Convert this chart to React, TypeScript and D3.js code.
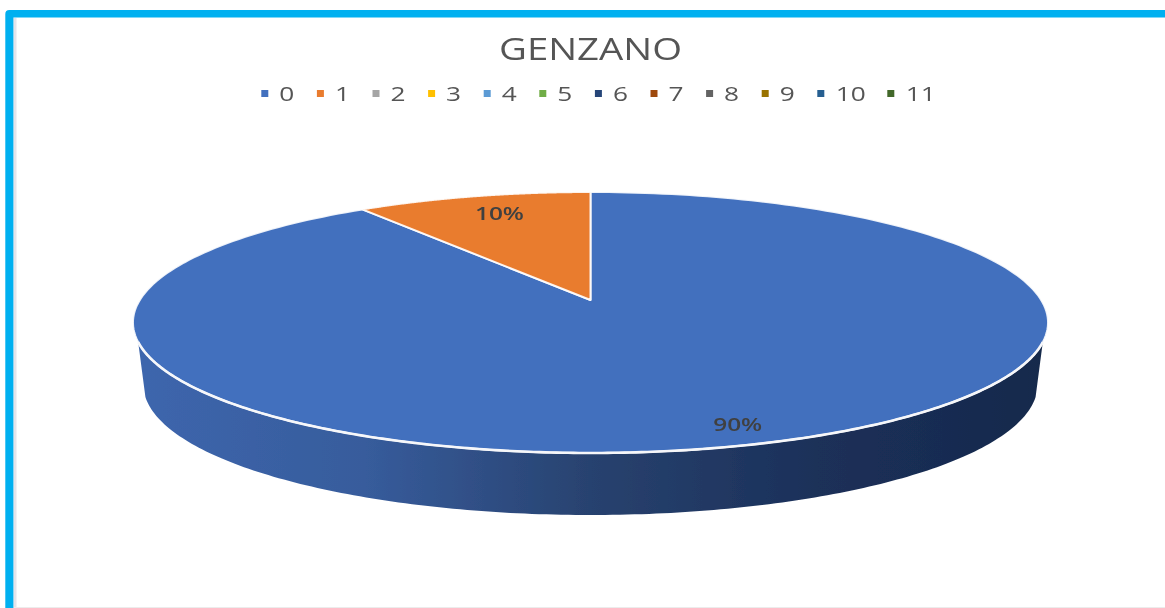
import React from "react";
import * as d3 from "d3";

const title = "GENZANO";
const categories = ["0", "1", "2", "3", "4", "5", "6", "7", "8", "9", "10", "11"];
const values = [90.2, 9.8, 0, 0, 0, 0, 0, 0, 0, 0, 0, 0];
const colors = ["#4270be", "#e97b2e", "#a5a5a5", "#ffc000", "#5b9bd5", "#70ad47", "#264478", "#9e480e", "#636363", "#997300", "#255e91", "#43682b"];
const wallStops = [
  { at: 0, color: "#3d66ad" },
  { at: 0.25, color: "#375c9c" },
  { at: 0.5, color: "#28426f" },
  { at: 0.75, color: "#1b3059" },
  { at: 1, color: "#17294c" },
];

const W = 1165, H = 608;
// perspective disc: apex of the slices, radii and tilt
const CX = 590.5, CY = 300, R = 450.7, RY = 126.6, TILT = -0.1724;
const project = (a: number, f = 1): [number, number] => {
  const u = Math.sin(a) * f, v = -Math.cos(a) * f;
  const d = 1 + TILT * v;
  return [CX + (R * u) / d, CY + (RY * v) / d];
};
const line = d3.line();
const TAU = Math.PI * 2;
const pie = d3.pie<number>().sort(null).startAngle(0).endAngle(TAU);
const arcs = pie(values);
const sweep = (a0: number, a1: number) => d3.range(0, 241).map((i) => a0 + ((a1 - a0) * i) / 240);

const slicePath = (a0: number, a1: number) =>
  line([[CX, CY], ...sweep(a0, a1).map((a) => project(a))]) + "Z";

// side wall: visible part of the rim plus the lower rim
const WALL_TOP = 342, WALL_KNEE = 397, LOW_CY = 385, LOW_RX = 447, LOW_RY = 130;
const lowerX = d3.scaleLinear().domain([-1, 1]).range([CX - LOW_RX, CX + LOW_RX]);
const lowerY = d3.scaleLinear().domain([-1, 1]).range([LOW_CY - LOW_RY, LOW_CY + LOW_RY]);
const findRim = (yT: number, side: number) => {
  const as = sweep(Math.PI / 2, Math.PI).map((a) => (side > 0 ? a : TAU - a));
  return as.reduce((b, a) => (Math.abs(project(a)[1] - yT) < Math.abs(project(b)[1] - yT) ? a : b), as[0]);
};
const aRight = findRim(WALL_TOP, 1), aLeft = findRim(WALL_TOP, -1);
const knee = Math.asin((WALL_KNEE - LOW_CY) / LOW_RY);
const lowerPts = d3.range(0, 181).map((i) => {
  const th = knee + ((Math.PI - 2 * knee) * i) / 180;
  return [lowerX(Math.cos(th)), lowerY(Math.sin(th))] as [number, number];
});
const wallPath = line([...sweep(aLeft, aRight).map((a) => project(a)), ...lowerPts]) + "Z";
const rimPath = line(sweep(aRight, aLeft).map((a) => project(a))) as string;

const legendStart = 264.8, legendStep = 55.6, legendExtra = 14.4;
const legendX = categories.map((_, i) =>
  legendStart + d3.sum(categories.slice(0, i), (c) => legendStep + (c.length - 1) * legendExtra)
);

const FONT = "'Open Sans', 'Liberation Sans', sans-serif";

export default function App() {
  return (
    <svg width={W} height={H} style={{ position: "fixed", left: 0, top: 0, background: "#fff" }}>
      <defs>
        <linearGradient id="wall" x1="0" x2="1" y1="0" y2="0">
          {wallStops.map((s) => <stop key={s.at} offset={s.at} stopColor={s.color} />)}
        </linearGradient>
        <filter id="soft" x="-5%" y="-5%" width="110%" height="110%">
          <feGaussianBlur stdDeviation="0.75" />
        </filter>
        <filter id="softText" x="-20%" y="-20%" width="140%" height="140%">
          <feGaussianBlur stdDeviation="0.7" />
        </filter>
      </defs>

      <rect x={13.5} y={18} width={3} height={H - 18} fill="#e4e4ea" />
      <path d={`M5.3 ${H} V14 Q5.3 10 9.3 10 H${W} V17.6 H13.4 V${H} Z`} fill="#00b0f0" />
      <line x1={14} x2={W} y1={607.5} y2={607.5} stroke="#ececec" />

      <text x={590.5} y={60} textAnchor="middle" fontFamily={FONT} fontSize={31} fill="#555"
        textLength={183} lengthAdjust="spacingAndGlyphs" filter="url(#softText)">{title}</text>

      <g filter="url(#softText)">
        {categories.map((c, i) => (
          <g key={c}>
            <rect x={legendX[i] - 3.5} y={90} width={7} height={7} fill={colors[i]} />
            <text x={legendX[i] + 22 + (c.length - 1) * 8} y={100.5} textAnchor="middle" fontFamily={FONT}
              fontSize={20} fill="#555" textLength={c.length * 15} lengthAdjust="spacingAndGlyphs">{c}</text>
          </g>
        ))}
      </g>

      <g filter="url(#soft)">
        <path d={wallPath} fill="url(#wall)" />
        {arcs.filter((a) => a.value > 0).map((a) => (
          <path key={a.index} d={slicePath(a.startAngle, a.endAngle)} fill={colors[a.index]}
            stroke="#fff" strokeOpacity={0.9} strokeWidth={2} strokeLinejoin="round" />
        ))}
        <path d={rimPath} fill="none" stroke="#f6f7fa" strokeWidth={2.6} />
      </g>

      <g filter="url(#softText)">
        {arcs.filter((a) => a.value > 0).map((a) => {
          const mid = (a.startAngle + a.endAngle) / 2;
          const [x, y] = project(mid, a.index === 0 ? 0.881 : 0.809);
          return (
            <text key={a.index} x={x + 6.5} y={y + 6.5} textAnchor="middle" fontFamily={FONT} fontSize={18}
              fontWeight={600} fill="#404040" textLength={49} lengthAdjust="spacingAndGlyphs">{Math.round(a.value)}%</text>
          );
        })}
      </g>
    </svg>
  );
}
